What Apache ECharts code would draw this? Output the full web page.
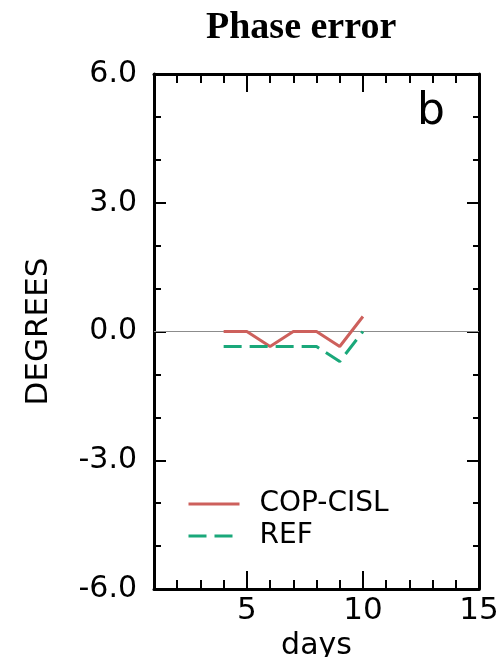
<!DOCTYPE html>
<html>
<head>
<meta charset="utf-8">
<script src="https://cdn.jsdelivr.net/npm/echarts@6/dist/echarts.min.js"></script>
<style>
  html, body { margin: 0; padding: 0; background: #fff; }
  #chart { width: 504px; height: 657px; }
</style>
</head>
<body>
<div id="chart"></div>
<script>
// values
var days = [4, 5, 6, 7, 8, 9, 10];
var copCisl = [0, 0, -0.35, 0, 0, -0.35, 0.35];
var ref = [-0.35, -0.35, -0.35, -0.35, -0.35, -0.7, 0];
var xLabels = [5, 10, 15];
var xMajorTicks = [5, 10];

var font = "DejaVu Sans";

function pairs(xs, ys) {
  return xs.map(function (x, i) { return [x, ys[i]]; });
}

var frame = { show: true, onZero: false, lineStyle: { color: "#000", width: 3 } };
var hidden = { show: false, onZero: false };

var option = {
  animation: false,
  backgroundColor: "#fff",
  title: [
    {
      text: "Phase error",
      left: 206,
      top: 9,
      padding: 0,
      textStyle: { fontFamily: "Liberation Serif", fontWeight: "bold", fontSize: 38, color: "#000" }
    },
    {
      text: "b",
      left: 417,
      top: 91,
      padding: 0,
      textStyle: { fontFamily: font, fontWeight: "normal", fontSize: 44, color: "#000" }
    }
  ],
  grid: { left: 154, right: 25, top: 74, bottom: 68, containLabel: false, outerBoundsMode: "none" },
  legend: {
    orient: "vertical",
    left: 187,
    top: 490,
    padding: 0,
    itemWidth: 51,
    itemHeight: 14,
    itemGap: 4,
    itemStyle: { opacity: 0 },
    lineStyle: { width: 3 },
    textStyle: { fontFamily: font, fontSize: 28, lineHeight: 27, color: "#000", padding: [0, 0, 0, 15] },
    data: ["COP-CISL", "REF"]
  },
  xAxis: [
    {
      type: "value", position: "bottom", min: 1, max: 15, interval: 1,
      axisLine: frame,
      axisTick: { inside: true, length: 9, lineStyle: { width: 2, color: "#000" } },
      axisLabel: { show: false },
      splitLine: { show: false }
    },
    {
      type: "value", position: "bottom", min: 1, max: 15, interval: 1,
      name: "days", nameLocation: "middle", nameGap: 30,
      nameTextStyle: { fontFamily: font, fontSize: 30, color: "#000" },
      axisLine: hidden,
      axisTick: { inside: true, length: 18, customValues: xMajorTicks, lineStyle: { width: 2, color: "#000" } },
      axisLabel: { customValues: xLabels, margin: 6, fontFamily: font, fontSize: 31, color: "#000" },
      splitLine: { show: false }
    },
    {
      type: "value", position: "top", min: 1, max: 15, interval: 1,
      axisLine: frame,
      axisTick: { inside: true, length: 9, lineStyle: { width: 2, color: "#000" } },
      axisLabel: { show: false },
      splitLine: { show: false }
    },
    {
      type: "value", position: "top", min: 1, max: 15, interval: 1,
      axisLine: hidden,
      axisTick: { inside: true, length: 18, customValues: xMajorTicks, lineStyle: { width: 2, color: "#000" } },
      axisLabel: { show: false },
      splitLine: { show: false }
    }
  ],
  yAxis: [
    {
      type: "value", position: "left", min: -6, max: 6, interval: 3,
      name: "DEGREES", nameLocation: "middle", nameGap: 100, nameRotate: 90,
      nameTextStyle: { fontFamily: font, fontSize: 31, color: "#000" },
      axisLine: frame,
      axisTick: { inside: true, length: 12, lineStyle: { width: 2, color: "#000" } },
      minorTick: { show: true, splitNumber: 3, length: 7, lineStyle: { width: 2, color: "#000" } },
      axisLabel: {
        margin: 17, fontFamily: font, fontSize: 30, color: "#000",
        formatter: function (v) { return v.toFixed(1); }
      },
      splitLine: { show: false }
    },
    {
      type: "value", position: "right", min: -6, max: 6, interval: 3,
      axisLine: frame,
      axisTick: { inside: true, length: 12, lineStyle: { width: 2, color: "#000" } },
      minorTick: { show: true, splitNumber: 3, length: 6, lineStyle: { width: 2, color: "#000" } },
      axisLabel: { show: false },
      splitLine: { show: false }
    }
  ],
  series: [
    {
      name: "COP-CISL",
      type: "line",
      xAxisIndex: 0, yAxisIndex: 0,
      data: pairs(days, copCisl),
      symbol: "none",
      z: 3,
      lineStyle: { color: "#cd605c", width: 3 },
      itemStyle: { color: "#cd605c" },
      markLine: {
        silent: true,
        symbol: "none",
        label: { show: false },
        lineStyle: { color: "#8c8c8c", width: 1, type: "solid" },
        data: [{ yAxis: 0 }],
        z: 1
      }
    },
    {
      name: "REF",
      type: "line",
      xAxisIndex: 0, yAxisIndex: 0,
      data: pairs(days, ref),
      symbol: "none",
      z: 3,
      lineStyle: { color: "#1aa87a", width: 3, type: [18, 8] },
      itemStyle: { color: "#1aa87a" }
    }
  ]
};

var chart = echarts.init(document.getElementById("chart"));
chart.setOption(option);
</script>
</body>
</html>
